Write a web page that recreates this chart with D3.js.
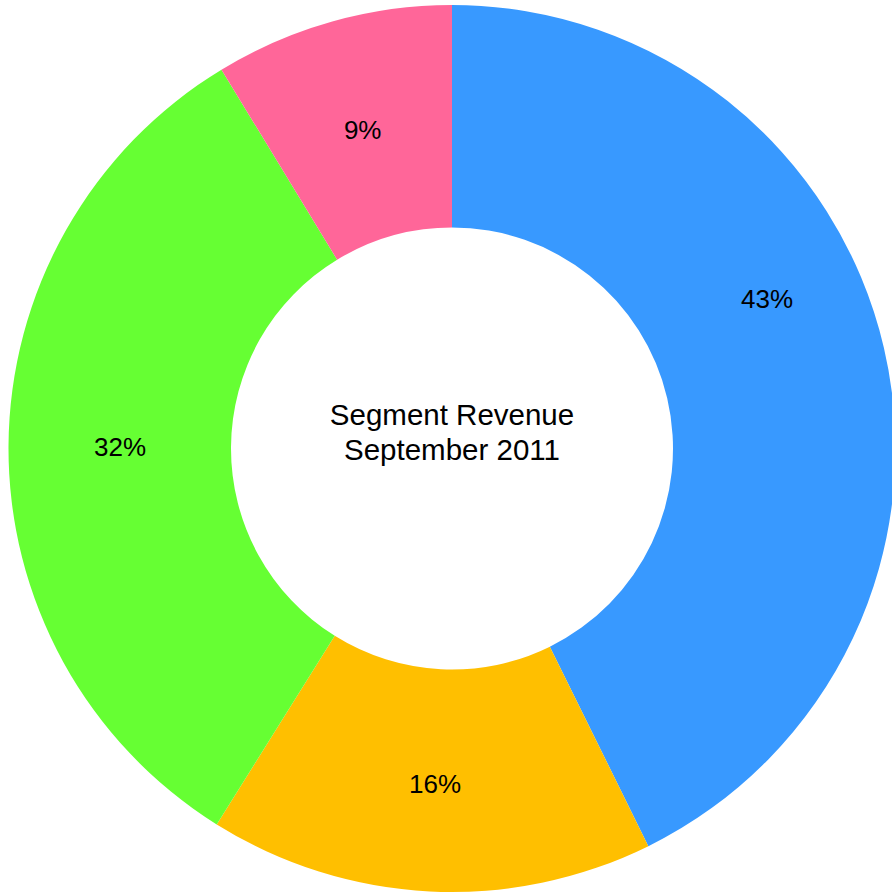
<!DOCTYPE html>
<html>
<head>
<meta charset="utf-8">
<script src="https://cdn.jsdelivr.net/npm/d3@7"></script>
<style>
  html, body { margin: 0; padding: 0; background: #fff; }
  svg { display: block; font-family: "Liberation Sans", Arial, sans-serif; }
</style>
</head>
<body>
<div id="chart"></div>
<script>
// data
const segments = ["A", "B", "C", "D"];
const shares = [42.7, 16.2, 32.4, 8.7];
const colors = ["#3899ff", "#ffbf00", "#66ff33", "#ff6699"];
const titleLines = ["Segment Revenue", "September 2011"];

const width = 892, height = 894;
const cx = 452, cy = 448.5;
const outerR = 443.5, innerR = 221;

const svg = d3.select("#chart")
  .append("svg")
  .attr("width", width)
  .attr("height", height);

const g = svg.append("g")
  .attr("transform", `translate(${cx}, ${cy})`);

const pie = d3.pie().sort(null).value(d => d.value);
const arcs = pie(segments.map((s, i) => ({ name: s, value: shares[i], color: colors[i] })));

const arc = d3.arc().innerRadius(innerR).outerRadius(outerR);

g.selectAll("path")
  .data(arcs)
  .enter()
  .append("path")
  .attr("d", arc)
  .attr("fill", d => d.data.color);

// labels: mid angle on a ring, first slice nudged like the original
const labelR = [349, 336, 332, 331];
const labelShift = [-0.215, 0, 0, 0]; // radians
g.selectAll("text.pct")
  .data(arcs)
  .enter()
  .append("text")
  .attr("class", "pct")
  .attr("x", (d, i) => labelR[i] * Math.sin((d.startAngle + d.endAngle) / 2 + labelShift[i]))
  .attr("y", (d, i) => -labelR[i] * Math.cos((d.startAngle + d.endAngle) / 2 + labelShift[i]))
  .attr("dy", "0.35em")
  .attr("text-anchor", "middle")
  .attr("font-size", "26px")
  .attr("fill", "#000")
  .text(d => Math.round(d.value) + "%");

// centre title
g.selectAll("text.title")
  .data(titleLines)
  .enter()
  .append("text")
  .attr("class", "title")
  .attr("x", 0)
  .attr("y", (d, i) => -24 + i * 35)
  .attr("text-anchor", "middle")
  .attr("font-size", "29.5px")
  .attr("fill", "#000")
  .text(d => d);
</script>
</body>
</html>
